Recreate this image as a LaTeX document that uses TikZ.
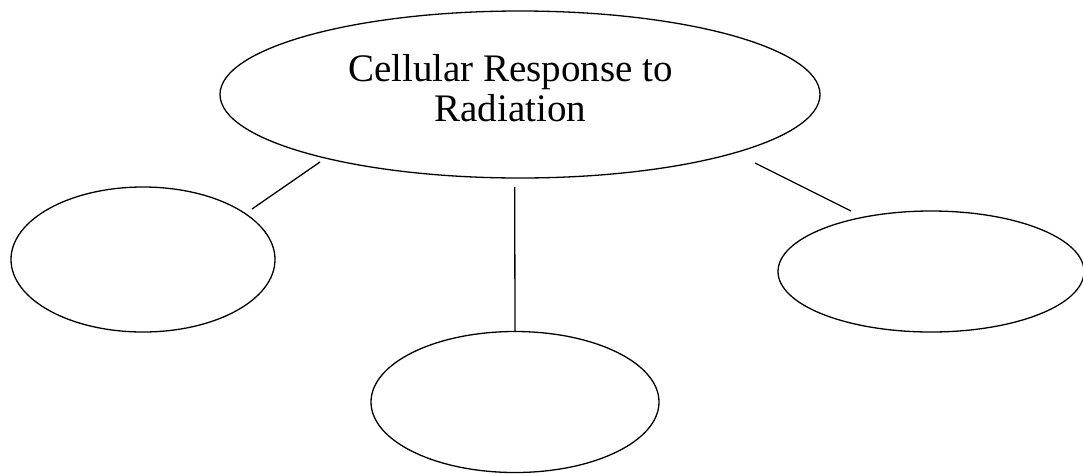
\documentclass[tikz,border=0pt]{standalone}
\usepackage{fontspec}
\setmainfont{Liberation Serif}
\usetikzlibrary{shapes.geometric}
\begin{document}
\begin{tikzpicture}[x=1pt,y=-1pt,
  oval/.style={draw=black, ellipse, line width=1.3pt, inner sep=0pt, fill=none},
  conn/.style={draw=black, line width=1.3pt},
  titletext/.style={font=\fontsize{39}{40}\selectfont, anchor=base, inner sep=0pt}]
\useasboundingbox (0,0) rectangle (1083,475);
\node[oval, minimum width=600pt, minimum height=167pt] (top) at (520,94.5) {};
\node[titletext] (t1) at (510.5,81.7) {Cellular Response to};
\node[titletext] (t2) at (510.2,121.7) {Radiation};
\node[oval, minimum width=264pt, minimum height=145pt] (left) at (143,259.5) {};
\node[oval, minimum width=288pt, minimum height=141pt] (bottom) at (515,402) {};
\node[oval, minimum width=306pt, minimum height=121pt] (right) at (931,271.5) {};
\coordinate (la) at (320,162);
\coordinate (lb) at (252,209);
\coordinate (ma) at (514.7,187);
\coordinate (ra) at (755,163);
\coordinate (rb) at (851,211);
\draw[conn] (la) -- (lb);
\draw[conn] (ma) -- (bottom.north);
\draw[conn] (ra) -- (rb);
\end{tikzpicture}
\end{document}
